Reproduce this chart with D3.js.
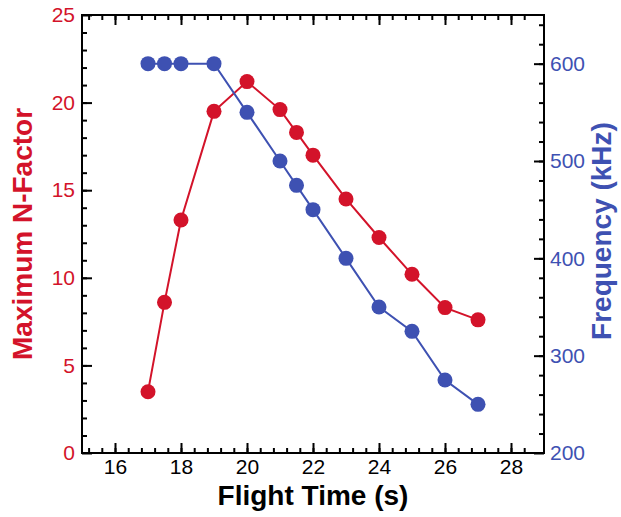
<!DOCTYPE html>
<html>
<head>
<meta charset="utf-8">
<script src="https://cdn.jsdelivr.net/npm/d3@7"></script>
<style>
  body { margin: 0; background: #fff; }
  svg { display: block; font-family: "Liberation Sans", Arial, Helvetica, sans-serif; }
</style>
</head>
<body>
<div id="chart"></div>
<script>
// flight time (s)
const flightTime = [17, 17.5, 18, 19, 20, 21, 21.5, 22, 23, 24, 25, 26, 27];
// maximum N-factor
const nFactor = [3.5, 8.6, 13.3, 19.5, 21.2, 19.6, 18.3, 17.0, 14.5, 12.3, 10.2, 8.3, 7.6];
// frequency (kHz)
const frequency = [600, 600, 600, 600, 550, 500, 475, 450, 400, 350, 325, 275, 250];

const xTicks = [16, 18, 20, 22, 24, 26, 28];
const nTicks = [0, 5, 10, 15, 20, 25];
const fTicks = [200, 300, 400, 500, 600];

const W = 621, H = 517;
const margin = { top: 15, right: 77, bottom: 64, left: 82 };
const red = '#d3132a', blue = '#3e51b2';

const svg = d3.select('#chart').append('svg')
  .attr('width', W).attr('height', H);

const x = d3.scaleLinear().domain([15, 29]).range([margin.left, W - margin.right]);
const yN = d3.scaleLinear().domain([0, 25]).range([H - margin.bottom, margin.top]);
const yF = d3.scaleLinear().domain([200, 650]).range([H - margin.bottom, margin.top]);

const xMinor = d3.range(-2, 34).map(i => 15.2 + i * 0.4).filter(v => v > 15.01 && v < 28.99);
const nMinor = d3.range(1, 25);
const fMinor = d3.range(220, 650, 20);

function styleAxis(g, color) {
  g.select('.domain').remove();
  g.selectAll('line').attr('stroke', '#000').attr('stroke-width', 2);
  g.selectAll('text').attr('fill', color).style('font-size', '21px');
}

const plotBottom = H - margin.bottom, plotTop = margin.top;
const plotLeft = margin.left, plotRight = W - margin.right;

// minor ticks
svg.append('g').attr('transform', `translate(0,${plotBottom})`)
  .call(d3.axisBottom(x).tickValues(xMinor).tickSize(-5).tickFormat(''))
  .call(g => styleAxis(g, '#000'));
svg.append('g').attr('transform', `translate(0,${plotTop})`)
  .call(d3.axisTop(x).tickValues(xMinor).tickSize(-5).tickFormat(''))
  .call(g => styleAxis(g, '#000'));
svg.append('g').attr('transform', `translate(${plotLeft},0)`)
  .call(d3.axisLeft(yN).tickValues(nMinor).tickSize(-5).tickFormat(''))
  .call(g => styleAxis(g, '#000'));
svg.append('g').attr('transform', `translate(${plotRight},0)`)
  .call(d3.axisRight(yF).tickValues(fMinor).tickSize(-5).tickFormat(''))
  .call(g => styleAxis(g, '#000'));

// major ticks + labels
svg.append('g').attr('transform', `translate(0,${plotBottom})`)
  .call(d3.axisBottom(x).tickValues(xTicks).tickSize(-10).tickPadding(6))
  .call(g => styleAxis(g, '#000'));
svg.append('g').attr('transform', `translate(0,${plotTop})`)
  .call(d3.axisTop(x).tickValues(xTicks).tickSize(-10).tickFormat(''))
  .call(g => styleAxis(g, '#000'));
svg.append('g').attr('transform', `translate(${plotLeft},0)`)
  .call(d3.axisLeft(yN).tickValues(nTicks).tickSize(-10).tickPadding(7))
  .call(g => styleAxis(g, red));
svg.append('g').attr('transform', `translate(${plotRight},0)`)
  .call(d3.axisRight(yF).tickValues(fTicks).tickSize(-10).tickPadding(6))
  .call(g => styleAxis(g, blue));

// frame
svg.append('rect')
  .attr('x', plotLeft).attr('y', plotTop)
  .attr('width', plotRight - plotLeft).attr('height', plotBottom - plotTop)
  .attr('fill', 'none').attr('stroke', '#000').attr('stroke-width', 2);

// series
function drawSeries(vals, yScale, color) {
  const pts = flightTime.map((t, i) => [t, vals[i]]);
  svg.append('path')
    .datum(pts)
    .attr('fill', 'none').attr('stroke', color).attr('stroke-width', 2)
    .attr('d', d3.line().x(d => x(d[0])).y(d => yScale(d[1])));
  svg.append('g').selectAll('circle')
    .data(pts)
    .join('circle')
    .attr('cx', d => x(d[0])).attr('cy', d => yScale(d[1]))
    .attr('r', 7.5).attr('fill', color);
}
drawSeries(nFactor, yN, red);
drawSeries(frequency, yF, blue);

// titles
svg.append('text')
  .attr('x', (plotLeft + plotRight) / 2).attr('y', 505)
  .attr('text-anchor', 'middle')
  .style('font-size', '28px').style('font-weight', 'bold')
  .text('Flight Time (s)');

svg.append('text')
  .attr('transform', `translate(32,${(plotTop + plotBottom) / 2}) rotate(-90)`)
  .attr('text-anchor', 'middle')
  .attr('fill', red)
  .style('font-size', '28px').style('font-weight', 'bold')
  .text('Maximum N-Factor');

svg.append('text')
  .attr('transform', `translate(611,${(plotTop + plotBottom) / 2 - 3}) rotate(-90)`)
  .attr('text-anchor', 'middle')
  .attr('fill', blue)
  .style('font-size', '28px').style('font-weight', 'bold')
  .text('Frequency (kHz)');
</script>
</body>
</html>
